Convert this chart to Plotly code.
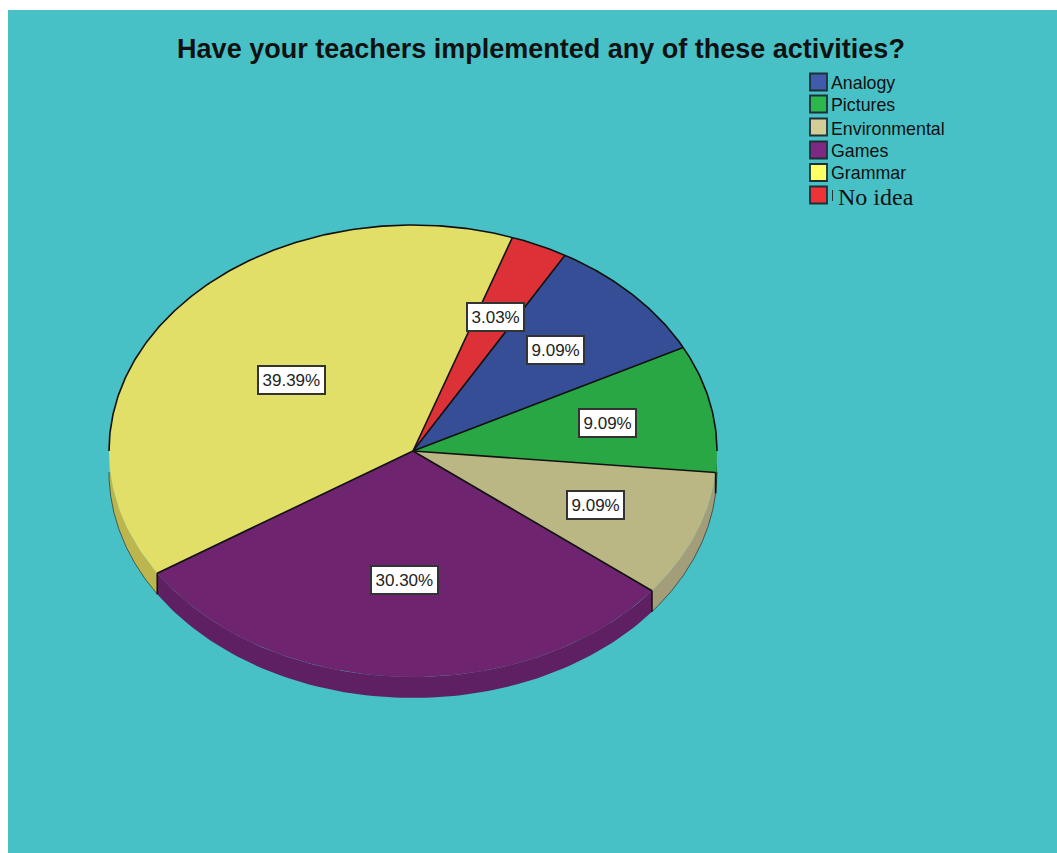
import numpy as np
import plotly.graph_objects as go

TITLE = "Have your teachers implemented any of these activities?"
categories = ["Analogy", "Pictures", "Environmental", "Games", "Grammar", "No idea"]
percent = [9.09, 9.09, 9.09, 30.30, 39.39, 3.03]

top_colors = ["#364E96", "#2AA745", "#BBB785", "#6E246E", "#E1DF68", "#DD3138"]
wall_colors = ["#2B3E78", "#208036", "#A39D79", "#5E2060", "#BDB64F", "#B0272D"]
swatch_colors = ["#3F5BA9", "#2DB84D", "#D3CE97", "#7F2A82", "#FFFF66", "#EE3338"]
label_radius = [0.648, 0.65, 0.648, 0.57, 0.51, 0.65]

BG = "#48C1C6"
CX, CY, RX, RY, DEPTH = 413, 451, 304, 226, 21
START = 30.0


def ex(t):
    return CX + RX * np.sin(np.radians(t))


def ey(t, drop=0):
    return CY - RY * np.cos(np.radians(t)) + drop


fractions = np.array(percent) / sum(percent) * 360
ends = START + np.cumsum(fractions)
starts = ends - fractions

fig = go.Figure()

# side walls (front half of the disc only)
for name, a, b, col in zip(categories, starts, ends, wall_colors):
    lo, hi = max(a, 90), min(b, 270)
    if hi <= lo:
        continue
    t = np.linspace(lo, hi, 80)
    xs = np.r_[ex(t), ex(t[::-1])]
    ys = np.r_[ey(t), ey(t[::-1], DEPTH)]
    fig.add_trace(go.Scatter(x=xs, y=ys, mode="lines", fill="toself", fillcolor=col,
                             line=dict(width=0, color=col), hoverinfo="skip", showlegend=False))
    if name != "Games":
        fig.add_trace(go.Scatter(x=ex(t), y=ey(t, DEPTH), mode="lines",
                                 line=dict(width=1, color="rgba(40,50,40,0.7)"),
                                 hoverinfo="skip", showlegend=False))

# top slices
for name, p, a, b, col in zip(categories, percent, starts, ends, top_colors):
    t = np.linspace(a, b, 120)
    fig.add_trace(go.Scatter(x=np.r_[CX, ex(t), CX], y=np.r_[CY, ey(t), CY], mode="lines",
                             fill="toself", fillcolor=col, line=dict(width=0, color=col),
                             name=name, text=f"{name}: {p:.2f}%", hoverinfo="text", showlegend=False))

# rim on the back half, spokes, and wall joints
t = np.linspace(-90, 90, 300)
fig.add_trace(go.Scatter(x=ex(t), y=ey(t), mode="lines", line=dict(width=1.6, color="#111"),
                         hoverinfo="skip", showlegend=False))
for a in starts:
    fig.add_trace(go.Scatter(x=[CX, ex(a)], y=[CY, ey(a)], mode="lines",
                             line=dict(width=1.6, color="#111"), hoverinfo="skip", showlegend=False))
    if 90 < a % 360 < 270:
        fig.add_trace(go.Scatter(x=[ex(a), ex(a)], y=[ey(a), ey(a, DEPTH)], mode="lines",
                                 line=dict(width=1.6, color="#111"), hoverinfo="skip", showlegend=False))

# value labels
for p, a, b, r in zip(percent, starts, ends, label_radius):
    m = np.radians((a + b) / 2)
    fig.add_annotation(x=CX + r * RX * np.sin(m), y=CY - r * RY * np.cos(m),
                       text=f"{p:.2f}%", showarrow=False,
                       font=dict(family="Liberation Sans", size=17, color="#222"),
                       bgcolor="white", bordercolor="#333", borderwidth=2, borderpad=3.5)

# legend
swatch_y = [82, 104, 127, 150, 172.5, 195]
text_y = [83, 105, 129, 151, 173, 197]
for name, col, sy, ty in zip(categories, swatch_colors, swatch_y, text_y):
    fig.add_shape(type="rect", x0=810, x1=827, y0=sy - 8.5, y1=sy + 8.5, fillcolor=col,
                  line=dict(color="#1c3036", width=1.8))
    if name == "No idea":
        fig.add_shape(type="line", x0=832.5, x1=832.5, y0=ty - 7, y1=ty + 4, line=dict(color="#333", width=1))
        fig.add_annotation(x=836, y=ty, text=name, showarrow=False, xanchor="left",
                           font=dict(family="Liberation Serif", size=24, color="#111"))
    else:
        fig.add_annotation(x=829, y=ty, text=name, showarrow=False, xanchor="left",
                           font=dict(family="Liberation Sans", size=17.8, color="#111"))

fig.update_layout(
    width=1057, height=853, autosize=False,
    margin=dict(l=8, r=0, t=10, b=0),
    paper_bgcolor="white", plot_bgcolor=BG,
    title=dict(text=f"<b>{TITLE}</b>", x=541 / 1057, xanchor="center", y=1 - 49 / 853, yanchor="middle",
               font=dict(family="Liberation Sans", size=27, color="#111")),
    xaxis=dict(range=[8, 1057], visible=False, fixedrange=True),
    yaxis=dict(range=[853, 10], visible=False, fixedrange=True),
    showlegend=False,
)

fig.write_html("out.html", config={"displayModeBar": False},
               post_script="document.body.style.margin='0';document.body.style.overflow='hidden';")
